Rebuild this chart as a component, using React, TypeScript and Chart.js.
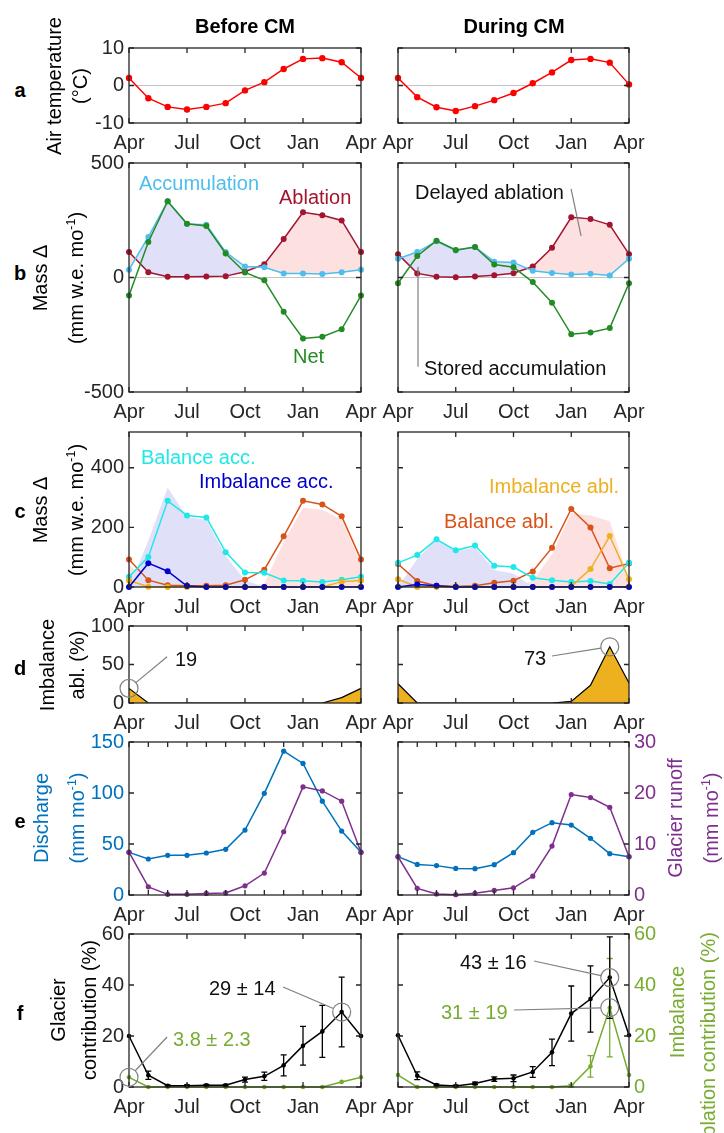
import React, { useEffect, useRef } from 'react';
import { Chart, registerables } from 'chart.js';

Chart.register(...registerables);

const FONT = "'Liberation Sans', Arial, Helvetica, sans-serif";
Chart.defaults.font.family = FONT;
Chart.defaults.font.size = 20;

// ---------- categories ----------
const months = ['Apr', 'May', 'Jun', 'Jul', 'Aug', 'Sep', 'Oct', 'Nov', 'Dec', 'Jan', 'Feb', 'Mar', 'Apr'];
const quarterIdx = [0, 3, 6, 9, 12];
const monthIdx = [0, 1, 2, 3, 4, 5, 6, 7, 8, 9, 10, 11, 12];

// ---------- a: air temperature (°C) ----------
const tempBefore = [2.0, -3.4, -5.7, -6.4, -5.7, -4.7, -1.3, 0.9, 4.4, 7.1, 7.3, 6.2, 2.0];
const tempDuring = [2.0, -3.1, -5.8, -6.8, -5.5, -3.9, -2.0, 0.6, 3.5, 6.8, 7.1, 6.1, 0.3];
const tempTicks = [-10, 0, 10];

// ---------- b: mass change (mm w.e. mo-1) ----------
const accBefore = [34, 177, 333, 234, 230, 111, 48, 45, 18, 18, 15, 23, 34];
const ablBefore = [111, 23, 3, 3, 4, 6, 25, 58, 168, 285, 272, 249, 111];
const netBefore = [-79, 155, 333, 235, 225, 105, 22, -12, -150, -266, -259, -226, -79];
const accDuring = [82, 111, 158, 118, 133, 69, 66, 29, 20, 13, 16, 9, 82];
const ablDuring = [102, 18, 3, 1, 4, 10, 19, 48, 130, 263, 256, 230, 102];
const netDuring = [-25, 94, 161, 120, 133, 57, 45, -20, -110, -248, -240, -221, -25];
const massTicks = [-500, 0, 500];

// ---------- c: balance / imbalance components ----------
const balAccBefore = [34, 101, 289, 240, 233, 117, 49, 48, 22, 21, 17, 24, 34];
const imbAccBefore = [0, 80, 53, 3, 0, 0, 0, 0, 0, 0, 0, 0, 0];
const balAblBefore = [92, 23, 6, 4, 4, 6, 24, 58, 170, 289, 277, 237, 92];
const imbAblBefore = [22, 1, 0, 0, 0, 0, 0, 0, 0, 0, 0, 18, 22];
const surplusBefore = [0, 155, 333, 235, 225, 105, 22, 0, 0, 0, 0, 0, 0];
const deficitBefore = [79, 0, 0, 0, 0, 0, 0, 12, 150, 266, 259, 226, 79];
const balAccDuring = [81, 107, 160, 123, 139, 71, 67, 31, 23, 17, 20, 10, 81];
const imbAccDuring = [0, 8, 4, 0, 0, 0, 0, 0, 0, 0, 0, 0, 0];
const balAblDuring = [77, 20, 4, 2, 4, 14, 21, 52, 132, 262, 200, 63, 79];
const imbAblDuring = [26, 0, 0, 0, 0, 0, 0, 0, 0, 2, 60, 171, 26];
const surplusDuring = [0, 94, 161, 120, 133, 57, 45, 0, 0, 0, 0, 0, 0];
const deficitDuring = [25, 0, 0, 0, 0, 0, 0, 20, 110, 248, 240, 221, 25];
const compTicks = [0, 200, 400];

// ---------- d: imbalance ablation (%) ----------
const imbPctBefore = [19, 0, 0, 0, 0, 0, 0, 0, 0, 0, 0, 7, 19];
const imbPctDuring = [25, 0, 0, 0, 0, 0, 0, 0, 0, 2, 23, 73, 26];
const pctTicks = [0, 50, 100];

// ---------- e: discharge & glacier runoff (mm mo-1) ----------
const dischargeBefore = [41.8, 35.3, 38.9, 38.9, 41.2, 44.8, 63.7, 99.7, 141, 129, 92, 62.7, 41.8];
const runoffBefore = [8.4, 1.6, 0.13, 0.13, 0.3, 0.4, 1.8, 4.3, 12.4, 21.2, 20.4, 18.4, 8.4];
const dischargeDuring = [37.6, 30, 28.8, 26.1, 25.8, 29.7, 41.5, 61.4, 70.9, 68.6, 55.6, 40.5, 37.6];
const runoffDuring = [7.5, 1.3, 0.2, 0.06, 0.33, 0.9, 1.4, 3.7, 9.6, 19.7, 19.1, 17.2, 7.5];
const dischargeTicks = [0, 50, 100, 150];
const runoffTicks = [0, 10, 20, 30];

// ---------- f: contributions (%) ----------
const glacierBefore = [20, 4.6, 0.5, 0.5, 0.7, 0.7, 2.9, 4.2, 8.5, 16.2, 21.8, 29.4, 20];
const glacierErrBefore = [0, 1.6, 0.3, 0.3, 0.3, 0.3, 1.0, 1.6, 4.1, 7.6, 10.2, 13.7, 0];
const imbContribBefore = [3.8, 0, 0, 0, 0, 0, 0, 0, 0, 0, 0, 2, 3.8];
const glacierDuring = [20.3, 4.4, 0.8, 0.4, 1.4, 3.1, 3.4, 5.9, 13.6, 28.8, 34.5, 42.9, 20.3];
const glacierErrDuring = [0, 1.5, 0.3, 0.3, 0.5, 0.9, 1.3, 2.1, 5.2, 10.8, 13, 16, 0];
const imbContribDuring = [4.7, 0, 0, 0, 0, 0, 0, 0, 0, 0.5, 8.1, 31.1, 4.7];
const imbContribErrDuring = [0, 0, 0, 0, 0, 0, 0, 0, 0, 0.5, 4.2, 19.3, 0];
const contribTicks = [0, 20, 40, 60];

// ---------- colours ----------
const TXT = '#262626';
const RED = '#FF0000';
const ACC = '#4DBEEE';
const ABL = '#A2142F';
const NET = '#238B23';
const LAV = 'rgb(224,224,249)';
const PINK = 'rgb(253,225,225)';
const CYAN = '#1FE8E8';
const IMBACC = '#0000CD';
const BALABL = '#D95319';
const IMBABL = '#EDB120';
const DIS = '#0072BD';
const RUN = '#7E2F8E';
const GRN = '#77AC30';
const GRAY = '#808080';

// ---------- layout ----------
const COLS = { L: [129, 361], R: [398, 629] } as const;
const ROWS = {
  a: [48, 123],
  b: [163, 392],
  c: [432, 587],
  d: [626, 703],
  e: [742, 895],
  f: [934, 1087],
} as const;
const PAD_T = 12;
const PAD_B = 36;

type Decor = {
  xTicks: number[];
  yTicks: number[];
  errors?: { ds: number; err: number[]; color: string }[];
  circles?: { ds: number; j: number; to: [number, number] }[];
  lines?: [number, number, number, number][];
};

function makeDecor(d: Decor) {
  return {
    id: 'decor',
    afterDatasetsDraw(chart: any) {
      const { ctx, chartArea: a, scales } = chart;
      const xs = scales.x;
      const ys = scales.y;
      ctx.save();
      // error bars
      (d.errors || []).forEach((e) => {
        const meta = chart.getDatasetMeta(e.ds);
        const sc = scales[meta.yAxisID];
        ctx.strokeStyle = e.color;
        ctx.lineWidth = 1.3;
        ctx.beginPath();
        e.err.forEach((er, j) => {
          if (!er) return;
          const v = chart.data.datasets[e.ds].data[j];
          const px = xs.getPixelForValue(j);
          const top = sc.getPixelForValue(v + er);
          const bot = sc.getPixelForValue(v - er);
          ctx.moveTo(px, top);
          ctx.lineTo(px, bot);
          ctx.moveTo(px - 3, top);
          ctx.lineTo(px + 3, top);
          ctx.moveTo(px - 3, bot);
          ctx.lineTo(px + 3, bot);
        });
        ctx.stroke();
      });
      // axes box & inward ticks
      ctx.strokeStyle = TXT;
      ctx.lineWidth = 1.3;
      ctx.strokeRect(a.left, a.top, a.right - a.left, a.bottom - a.top);
      const TL = 5;
      ctx.beginPath();
      d.xTicks.forEach((i) => {
        const px = xs.getPixelForValue(i);
        ctx.moveTo(px, a.bottom);
        ctx.lineTo(px, a.bottom - TL);
        ctx.moveTo(px, a.top);
        ctx.lineTo(px, a.top + TL);
      });
      d.yTicks.forEach((v) => {
        const py = ys.getPixelForValue(v);
        ctx.moveTo(a.left, py);
        ctx.lineTo(a.left + TL, py);
        ctx.moveTo(a.right, py);
        ctx.lineTo(a.right - TL, py);
      });
      ctx.stroke();
      // leader lines & circles
      ctx.strokeStyle = GRAY;
      ctx.lineWidth = 1.2;
      (d.lines || []).forEach(([x1, v1, x2, v2]) => {
        ctx.beginPath();
        ctx.moveTo(xs.getPixelForValue(x1), ys.getPixelForValue(v1));
        ctx.lineTo(xs.getPixelForValue(x2), ys.getPixelForValue(v2));
        ctx.stroke();
      });
      (d.circles || []).forEach((c) => {
        const meta = chart.getDatasetMeta(c.ds);
        const sc = scales[meta.yAxisID];
        const v = chart.data.datasets[c.ds].data[c.j];
        const cx = xs.getPixelForValue(c.j);
        const cy = sc.getPixelForValue(v);
        const tx = xs.getPixelForValue(c.to[0]);
        const ty = sc.getPixelForValue(c.to[1]);
        const R = 9;
        const dx = tx - cx;
        const dy = ty - cy;
        const L = Math.hypot(dx, dy) || 1;
        ctx.beginPath();
        ctx.arc(cx, cy, R, 0, Math.PI * 2);
        ctx.stroke();
        ctx.beginPath();
        ctx.moveTo(cx + (dx / L) * R, cy + (dy / L) * R);
        ctx.lineTo(tx, ty);
        ctx.stroke();
      });
      ctx.restore();
    },
  };
}

const ln = (data: number[], color: string, r: number, extra: any = {}) => ({
  data,
  borderColor: color,
  backgroundColor: color,
  pointBackgroundColor: color,
  pointBorderWidth: 0,
  pointRadius: r,
  pointHoverRadius: r,
  borderWidth: 1.5,
  fill: false,
  clip: false,
  ...extra,
});
const area = (data: number[], color: string) => ({
  data,
  borderWidth: 0,
  borderColor: 'rgba(0,0,0,0)',
  pointRadius: 0,
  pointHoverRadius: 0,
  backgroundColor: color,
  fill: 'origin',
});

type AxisSpec = { min: number; max: number; ticks: number[]; color: string; show: boolean };

type PanelSpec = {
  col: 'L' | 'R';
  row: keyof typeof ROWS;
  y: AxisSpec;
  y1?: AxisSpec;
  zeroLine?: boolean;
  datasets: () => any[];
  decor: Decor;
};

function geom(p: PanelSpec) {
  const [x0, x1] = COLS[p.col];
  const [y0, y1] = ROWS[p.row];
  const padL = p.col === 'L' ? 70 : 25;
  const padR = p.y1 && p.y1.show ? 50 : 25;
  return {
    left: x0 - padL,
    top: y0 - PAD_T,
    width: padL + (x1 - x0) + padR,
    height: PAD_T + (y1 - y0) + PAD_B,
    padL,
    padR,
  };
}

function buildConfig(p: PanelSpec) {
  const g = geom(p);
  const yAxis = (s: AxisSpec, pos: 'left' | 'right', width: number, isMain: boolean) => ({
    type: 'linear',
    position: pos,
    min: s.min,
    max: s.max,
    display: isMain ? true : s.show,
    grid: isMain
      ? {
          display: !!p.zeroLine,
          drawTicks: false,
          lineWidth: 1,
          color: (ctx: any) => (ctx.tick && ctx.tick.value === 0 ? '#C4C4C4' : 'rgba(0,0,0,0)'),
        }
      : { display: false, drawTicks: false },
    border: { display: false },
    ticks: { display: s.show, padding: 5, color: s.color, font: { size: 20, family: FONT } },
    afterBuildTicks: (sc: any) => {
      sc.ticks = s.ticks.map((v) => ({ value: v }));
    },
    afterFit: (sc: any) => {
      sc.width = isMain || s.show ? width : 0;
      sc.paddingTop = 0;
      sc.paddingBottom = 0;
    },
  });
  const scales: any = {
    x: {
      type: 'category',
      offset: false,
      grid: { display: false, drawTicks: false },
      border: { display: false },
      ticks: {
        autoSkip: false,
        maxRotation: 0,
        minRotation: 0,
        padding: 8,
        color: TXT,
        font: { size: 20, family: FONT },
        callback: (_v: any, i: number) => (i % 3 === 0 ? months[i] : ''),
      },
      afterFit: (sc: any) => {
        sc.height = PAD_B;
        sc.paddingLeft = 0;
        sc.paddingRight = 0;
      },
    },
    y: yAxis(p.y, 'left', g.padL, true),
  };
  if (p.y1) scales.y1 = yAxis(p.y1, 'right', g.padR, false);
  return {
    type: 'line',
    data: { labels: months, datasets: p.datasets() },
    options: {
      animation: false,
      responsive: false,
      maintainAspectRatio: false,
      events: [],
      layout: { padding: { top: PAD_T, left: 0, bottom: 0, right: p.y1 && p.y1.show ? 0 : g.padR } },
      plugins: {
        legend: { display: false },
        tooltip: { enabled: false },
        filler: { propagate: false, drawTime: 'beforeDatasetsDraw' },
      },
      elements: { line: { tension: 0 } },
      scales,
    },
    plugins: [makeDecor(p.decor)],
  };
}

function Panel({ spec }: { spec: PanelSpec }) {
  const ref = useRef<HTMLCanvasElement>(null);
  const g = geom(spec);
  useEffect(() => {
    const chart = new Chart(ref.current as HTMLCanvasElement, buildConfig(spec) as any);
    return () => chart.destroy();
  }, []);
  return (
    <canvas
      ref={ref}
      width={g.width}
      height={g.height}
      style={{ position: 'absolute', left: g.left, top: g.top, width: g.width, height: g.height }}
    />
  );
}

const ax = (min: number, max: number, ticks: number[], show: boolean, color = TXT): AxisSpec => ({
  min,
  max,
  ticks,
  show,
  color,
});

const panels: PanelSpec[] = [
  // a
  {
    col: 'L', row: 'a', y: ax(-10, 10, tempTicks, true), zeroLine: true,
    datasets: () => [ln(tempBefore, RED, 3.2)],
    decor: { xTicks: quarterIdx, yTicks: tempTicks },
  },
  {
    col: 'R', row: 'a', y: ax(-10, 10, tempTicks, false), zeroLine: true,
    datasets: () => [ln(tempDuring, RED, 3.2)],
    decor: { xTicks: quarterIdx, yTicks: tempTicks },
  },
  // b
  {
    col: 'L', row: 'b', y: ax(-500, 500, massTicks, true), zeroLine: true,
    datasets: () => [
      ln(netBefore, NET, 3),
      ln(accBefore, ACC, 3, { fill: { target: 2, above: LAV, below: PINK } }),
      ln(ablBefore, ABL, 3),
    ],
    decor: { xTicks: quarterIdx, yTicks: massTicks },
  },
  {
    col: 'R', row: 'b', y: ax(-500, 500, massTicks, false), zeroLine: true,
    datasets: () => [
      ln(netDuring, NET, 3),
      ln(accDuring, ACC, 3, { fill: { target: 2, above: LAV, below: PINK } }),
      ln(ablDuring, ABL, 3),
    ],
    decor: {
      xTicks: quarterIdx,
      yTicks: massTicks,
      lines: [
        [8.99, 387, 9.51, 182],
        [1.04, 47, 1.04, -390],
      ],
    },
  },
  // c
  {
    col: 'L', row: 'c', y: ax(0, 520, compTicks, true),
    datasets: () => [
      area(surplusBefore, LAV),
      area(deficitBefore, PINK),
      ln(imbAccBefore, IMBACC, 3),
      ln(imbAblBefore, IMBABL, 3),
      ln(balAccBefore, CYAN, 3),
      ln(balAblBefore, BALABL, 3),
    ],
    decor: { xTicks: quarterIdx, yTicks: compTicks },
  },
  {
    col: 'R', row: 'c', y: ax(0, 520, compTicks, false),
    datasets: () => [
      area(surplusDuring, LAV),
      area(deficitDuring, PINK),
      ln(imbAccDuring, IMBACC, 3),
      ln(imbAblDuring, IMBABL, 3),
      ln(balAccDuring, CYAN, 3),
      ln(balAblDuring, BALABL, 3),
    ],
    decor: { xTicks: quarterIdx, yTicks: compTicks },
  },
  // d
  {
    col: 'L', row: 'd', y: ax(0, 100, pctTicks, true),
    datasets: () => [
      { data: imbPctBefore, borderColor: '#000', borderWidth: 1.2, pointRadius: 0, pointHoverRadius: 0, fill: 'origin', backgroundColor: IMBABL },
    ],
    decor: { xTicks: quarterIdx, yTicks: pctTicks, circles: [{ ds: 0, j: 0, to: [1.97, 60] }] },
  },
  {
    col: 'R', row: 'd', y: ax(0, 100, pctTicks, false),
    datasets: () => [
      { data: imbPctDuring, borderColor: '#000', borderWidth: 1.2, pointRadius: 0, pointHoverRadius: 0, fill: 'origin', backgroundColor: IMBABL },
    ],
    decor: { xTicks: quarterIdx, yTicks: pctTicks, circles: [{ ds: 0, j: 11, to: [8.0, 61] }] },
  },
  // e
  {
    col: 'L', row: 'e', y: ax(0, 150, dischargeTicks, true, DIS), y1: ax(0, 30, runoffTicks, false, RUN),
    datasets: () => [ln(runoffBefore, RUN, 2.6, { yAxisID: 'y1' }), ln(dischargeBefore, DIS, 2.6, { yAxisID: 'y' })],
    decor: { xTicks: monthIdx, yTicks: dischargeTicks },
  },
  {
    col: 'R', row: 'e', y: ax(0, 150, dischargeTicks, false, DIS), y1: ax(0, 30, runoffTicks, true, RUN),
    datasets: () => [ln(runoffDuring, RUN, 2.6, { yAxisID: 'y1' }), ln(dischargeDuring, DIS, 2.6, { yAxisID: 'y' })],
    decor: { xTicks: monthIdx, yTicks: dischargeTicks },
  },
  // f
  {
    col: 'L', row: 'f', y: ax(0, 60, contribTicks, true), y1: ax(0, 60, contribTicks, false, GRN),
    datasets: () => [ln(glacierBefore, '#000', 2.3, { yAxisID: 'y' }), ln(imbContribBefore, GRN, 2.3, { yAxisID: 'y1' })],
    decor: {
      xTicks: quarterIdx,
      yTicks: contribTicks,
      errors: [{ ds: 0, err: glacierErrBefore, color: '#000' }],
      circles: [
        { ds: 0, j: 11, to: [7.97, 39.2] },
        { ds: 1, j: 0, to: [1.97, 19.6] },
      ],
    },
  },
  {
    col: 'R', row: 'f', y: ax(0, 60, contribTicks, false), y1: ax(0, 60, contribTicks, true, GRN),
    datasets: () => [ln(glacierDuring, '#000', 2.3, { yAxisID: 'y' }), ln(imbContribDuring, GRN, 2.3, { yAxisID: 'y1' })],
    decor: {
      xTicks: quarterIdx,
      yTicks: contribTicks,
      errors: [
        { ds: 1, err: imbContribErrDuring, color: GRN },
        { ds: 0, err: glacierErrDuring, color: '#000' },
      ],
      circles: [
        { ds: 0, j: 11, to: [7.06, 49.4] },
        { ds: 1, j: 11, to: [6.03, 30.2] },
      ],
    },
  },
];

// ---------- text ----------
type Txt = { t: React.ReactNode; x: number; y: number; c?: string; b?: boolean; rot?: boolean; left?: boolean };

const sup = (s: string) => (
  <sup style={{ fontSize: '0.62em', verticalAlign: '0.6em', lineHeight: 0 }}>{s}</sup>
);
const massUnit = <>(mm w.e. mo{sup('-1')})</>;
const flowUnit = <>(mm mo{sup('-1')})</>;
const BLK = '#111';

const texts: Txt[] = [
  { t: 'Before CM', x: 245, y: 26, b: true },
  { t: 'During CM', x: 514, y: 26, b: true },
  { t: 'a', x: 20, y: 90, b: true },
  { t: 'b', x: 20, y: 273, b: true },
  { t: 'c', x: 20, y: 511, b: true },
  { t: 'd', x: 20, y: 668, b: true },
  { t: 'e', x: 20, y: 821, b: true },
  { t: 'f', x: 20, y: 1013, b: true },
  // axis titles
  { t: 'Air temperature', x: 54, y: 86, rot: true },
  { t: '(°C)', x: 80, y: 86, rot: true },
  { t: 'Mass Δ', x: 40, y: 278, rot: true },
  { t: massUnit, x: 76, y: 278, rot: true },
  { t: 'Mass Δ', x: 40, y: 510, rot: true },
  { t: massUnit, x: 76, y: 510, rot: true },
  { t: 'Imbalance', x: 47, y: 665, rot: true },
  { t: 'abl. (%)', x: 77, y: 665, rot: true },
  { t: 'Discharge', x: 41, y: 818, rot: true, c: DIS },
  { t: flowUnit, x: 77, y: 818, rot: true, c: DIS },
  { t: 'Glacier runoff', x: 675, y: 818, rot: true, c: RUN },
  { t: flowUnit, x: 711, y: 818, rot: true, c: RUN },
  { t: 'Glacier', x: 58, y: 1010, rot: true },
  { t: 'contribution (%)', x: 89, y: 1010, rot: true },
  { t: 'Imbalance', x: 677, y: 1012, rot: true, c: GRN },
  { t: 'ablation contribution (%)', x: 708, y: 1040, rot: true, c: GRN },
  // in-plot labels
  { t: 'Accumulation', x: 139, y: 183, c: ACC, left: true },
  { t: 'Ablation', x: 279, y: 197, c: ABL, left: true },
  { t: 'Net', x: 293, y: 356, c: NET, left: true },
  { t: 'Delayed ablation', x: 415, y: 192, c: BLK, left: true },
  { t: 'Stored accumulation', x: 424, y: 368, c: BLK, left: true },
  { t: 'Balance acc.', x: 141, y: 457, c: CYAN, left: true },
  { t: 'Imbalance acc.', x: 199, y: 481, c: IMBACC, left: true },
  { t: 'Imbalance abl.', x: 489, y: 486, c: IMBABL, left: true },
  { t: 'Balance abl.', x: 444, y: 521, c: BALABL, left: true },
  { t: '19', x: 175, y: 659, c: BLK, left: true },
  { t: '73', x: 524, y: 658, c: BLK, left: true },
  { t: '29 ± 14', x: 209, y: 988, c: BLK, left: true },
  { t: '3.8 ± 2.3', x: 173, y: 1039, c: GRN, left: true },
  { t: '43 ± 16', x: 460, y: 962, c: BLK, left: true },
  { t: '31 ± 19', x: 441, y: 1012, c: GRN, left: true },
];

function Label({ t, x, y, c = '#000', b = false, rot = false, left = false }: Txt) {
  const tf = rot ? 'translate(-50%,-50%) rotate(-90deg)' : left ? 'translate(0,-50%)' : 'translate(-50%,-50%)';
  return (
    <div
      style={{
        position: 'absolute',
        left: x,
        top: y,
        transform: tf,
        whiteSpace: 'nowrap',
        color: c,
        fontWeight: b ? 700 : 400,
        fontSize: 20,
        fontFamily: FONT,
        lineHeight: '23px',
        pointerEvents: 'none',
      }}
    >
      {t}
    </div>
  );
}

export default function App() {
  return (
    <div
      style={{
        position: 'absolute',
        left: 0,
        top: 0,
        width: 724,
        height: 1133,
        overflow: 'hidden',
        background: '#fff',
      }}
    >
      {panels.map((p, i) => (
        <Panel key={i} spec={p} />
      ))}
      {texts.map((t, i) => (
        <Label key={'t' + i} {...t} />
      ))}
    </div>
  );
}
